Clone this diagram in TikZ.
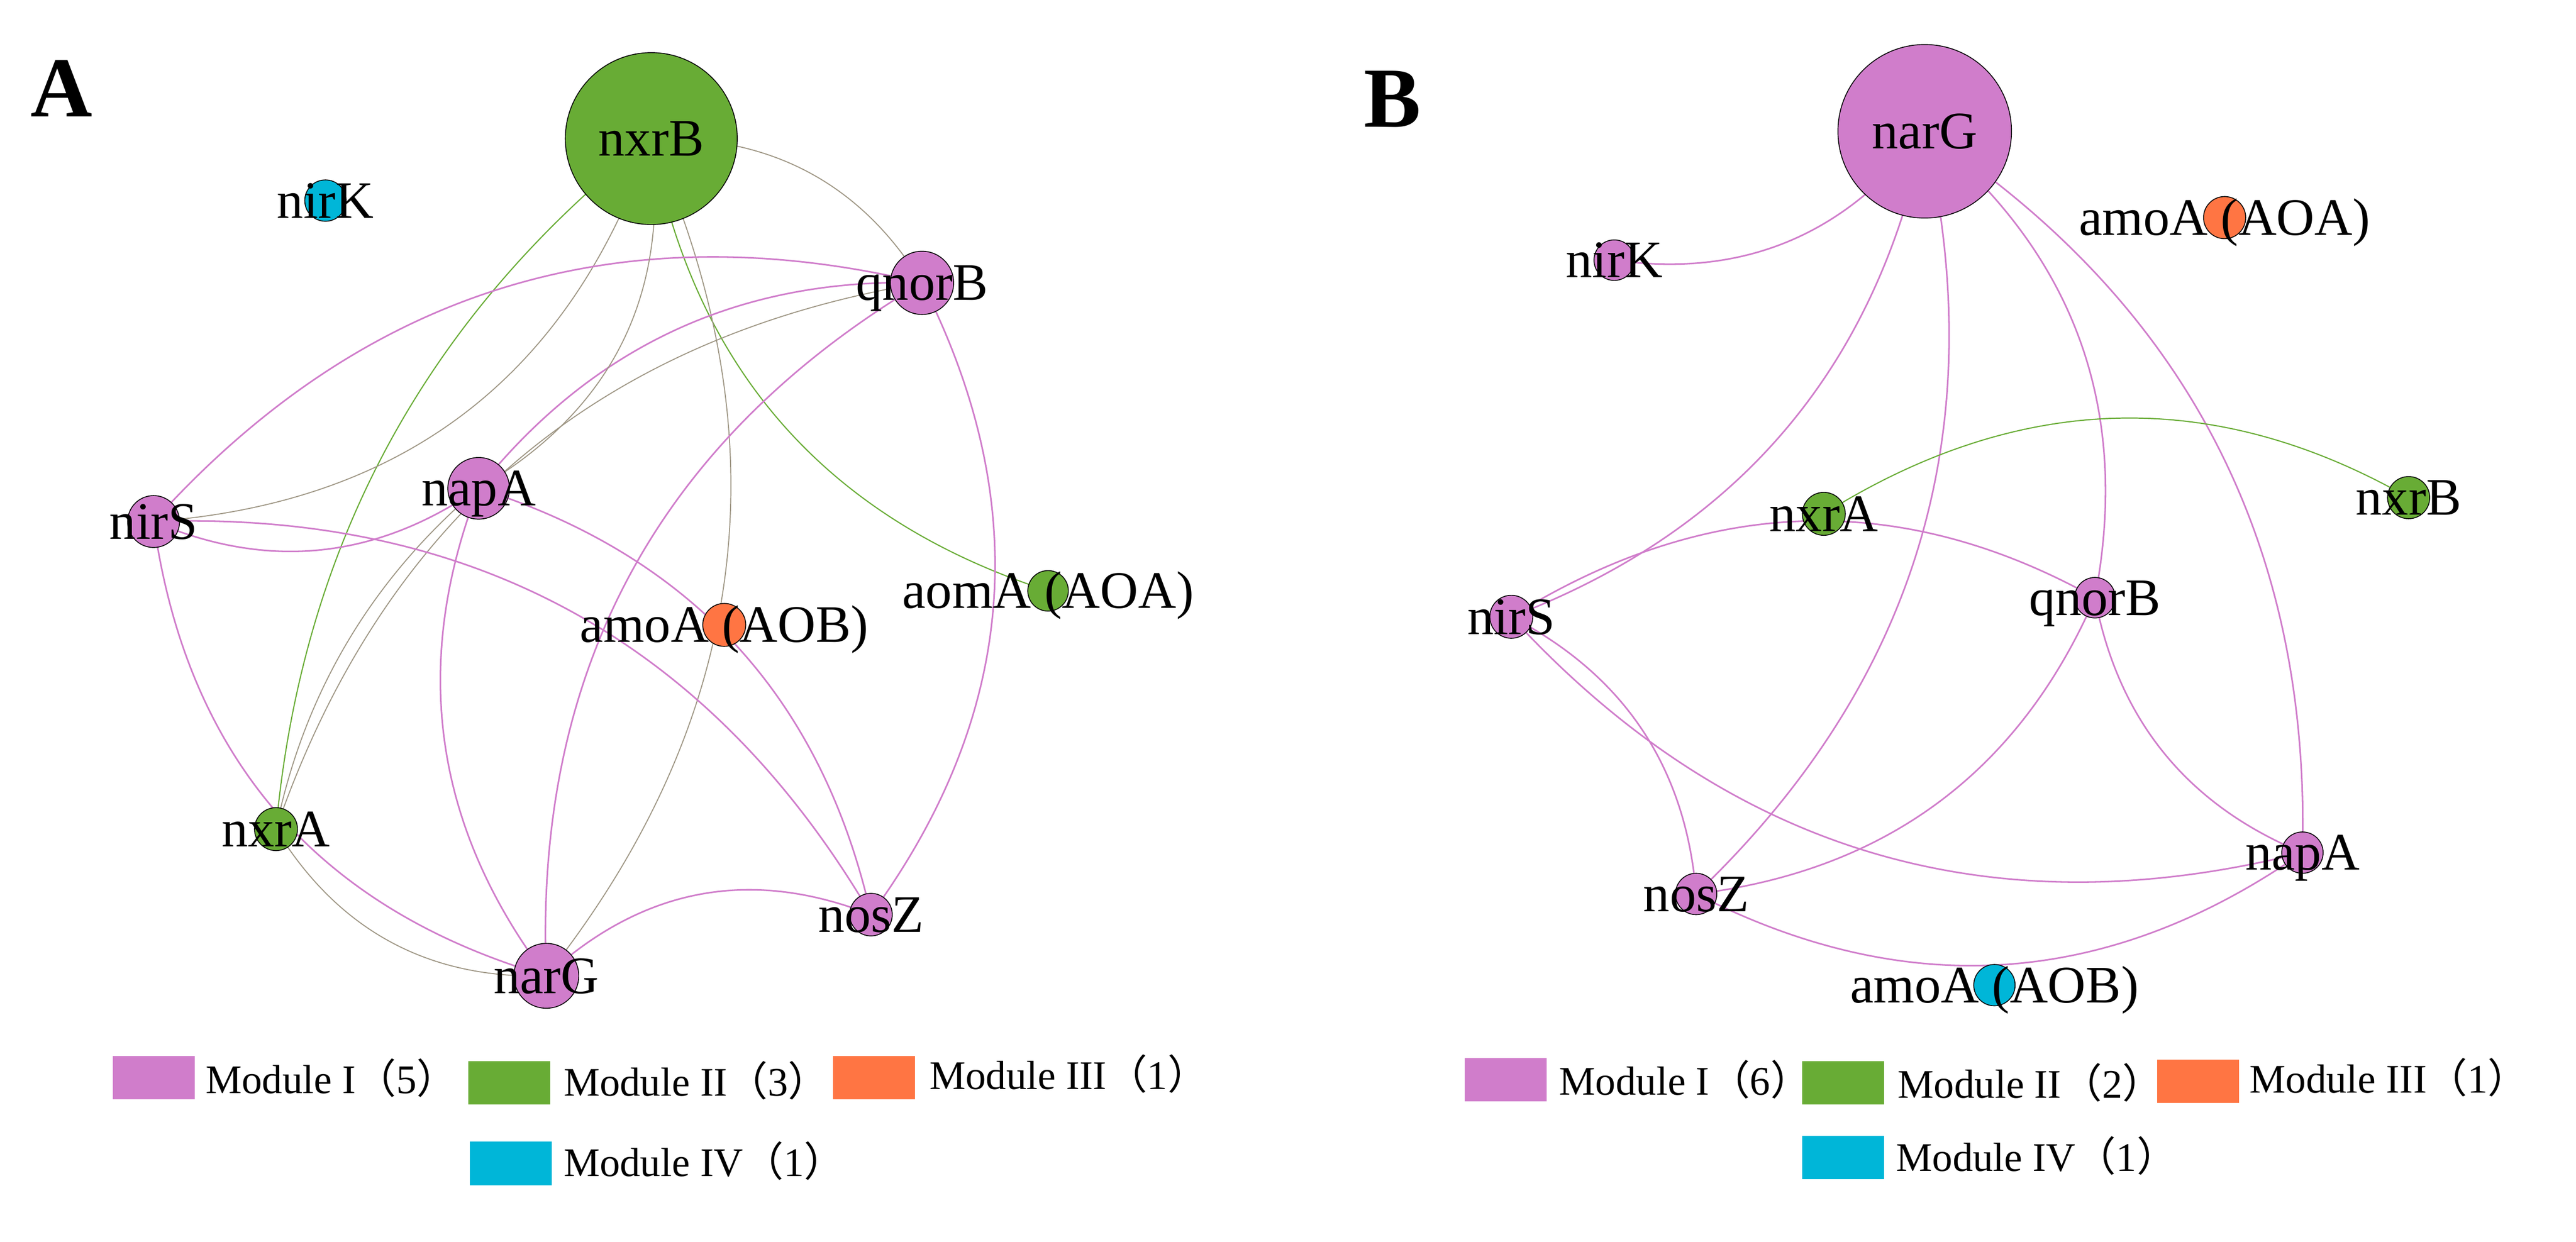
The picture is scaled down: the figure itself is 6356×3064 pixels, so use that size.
\documentclass[tikz,border=0pt]{standalone}
\usepackage{fontspec}
\setmainfont{Liberation Serif}
\newfontfamily\cjk{Noto Sans CJK SC}
\usetikzlibrary{calc,backgrounds}
\definecolor{modpink}{HTML}{D07DCB}
\definecolor{modgreen}{HTML}{68AC35}
\definecolor{modorange}{HTML}{FF7543}
\definecolor{modcyan}{HTML}{00B6D8}
\definecolor{mixgrey}{HTML}{9E9684}
\tikzset{
  gnode/.style={circle, draw=black, line width=0.6pt, inner sep=0pt},
  glabel/.style={font=\fontsize{37}{44}\selectfont, anchor=base, inner sep=0pt},
  pe/.style={draw=modpink, line width=1.1pt},
  ge/.style={draw=mixgrey, line width=0.7pt},
  gre/.style={draw=modgreen, line width=0.8pt},
  swatch/.style={rectangle, inner sep=0pt, minimum width=2.02cm, minimum height=1.07cm},
  legtext/.style={font=\fontsize{28.5}{34}\selectfont, anchor=base west, inner sep=0pt},
  panel/.style={font=\fontsize{60}{72}\selectfont\bfseries, anchor=base west, inner sep=0pt}
}
\newcommand{\netnode}[5]{\node[gnode, fill=#5, minimum size=#4cm] (#1) at (#2,#3) {};}
\newcommand{\netlabel}[4]{\node[glabel] (#1-t) at (#2,{#3+43}) {#4};}
\newcommand{\netedge}[5]{\draw[#1] (#2.center) .. controls ($1.3333*(#4,#5)-0.3333*(#3)$) and ($1.3333*(#4,#5)-0.3333*(#2)$) .. (#3.center);}
\begin{document}
\begin{tikzpicture}[x=0.01cm, y=-0.01cm]
\useasboundingbox (0,0) rectangle (6356,3064);
% ---------- Panel A nodes
\netnode{a-nxrB}{1607}{342}{4.24}{modgreen}
\netnode{a-nirK}{803}{495}{1.02}{modcyan}
\netnode{a-qnorB}{2275}{698}{1.56}{modpink}
\netnode{a-napA}{1181}{1205}{1.52}{modpink}
\netnode{a-nirS}{379}{1287}{1.28}{modpink}
\netnode{a-aomA}{2586}{1458}{1.0}{modgreen}
\netnode{a-amoA}{1787}{1542}{1.06}{modorange}
\netnode{a-nxrA}{681}{2046}{1.06}{modgreen}
\netnode{a-narG}{1348}{2408}{1.6}{modpink}
\netnode{a-nosZ}{2149}{2257}{1.05}{modpink}
% ---------- Panel B nodes
\netnode{b-narG}{4749}{324}{4.28}{modpink}
\netnode{b-nirK}{3983}{642}{1.0}{modpink}
\netnode{b-amoAOA}{5489}{537}{1.04}{modorange}
\netnode{b-nxrA}{4500}{1268}{1.06}{modgreen}
\netnode{b-nxrB}{5943}{1228}{1.04}{modgreen}
\netnode{b-qnorB}{5169}{1475}{1.0}{modpink}
\netnode{b-nirS}{3729}{1522}{1.06}{modpink}
\netnode{b-nosZ}{4185}{2206}{1.02}{modpink}
\netnode{b-napA}{5681}{2104}{1.02}{modpink}
\netnode{b-amoAOB}{4921}{2431}{1.02}{modcyan}
% ---------- Edges (behind nodes)
\begin{pgfonlayer}{background}
\fill[white] (0,0) rectangle (6356,3064);
\netedge{ge}{a-nxrB}{a-qnorB}{1995}{425}
\netedge{gre}{a-nxrB}{a-nxrA}{960}{1094}
\netedge{gre}{a-nxrB}{a-aomA}{1930}{1046}
\netedge{ge}{a-nxrB}{a-nirS}{1150}{1017}
\netedge{ge}{a-nxrB}{a-narG}{1790}{1414}
\netedge{pe}{a-nirS}{a-qnorB}{1239}{711}
\netedge{pe}{a-napA}{a-qnorB}{1665}{815}
\netedge{ge}{a-qnorB}{a-nxrA}{1278}{1135}
\netedge{ge}{a-nxrB}{a-napA}{1536}{844}
\netedge{ge}{a-napA}{a-nxrA}{858}{1583}
\netedge{pe}{a-qnorB}{a-narG}{1556}{1415}
\netedge{pe}{a-qnorB}{a-nosZ}{2451}{1497}
\netedge{pe}{a-nirS}{a-napA}{791}{1357}
\netedge{pe}{a-nirS}{a-nosZ}{1410}{1509}
\netedge{pe}{a-napA}{a-nosZ}{1816}{1592}
\netedge{pe}{a-nirS}{a-narG}{682}{2004}
\netedge{pe}{a-napA}{a-narG}{1097}{1830}
\netedge{ge}{a-nxrA}{a-narG}{963}{2324}
\netedge{pe}{a-narG}{a-nosZ}{1726}{2207}
%
\netedge{pe}{b-narG}{b-nirK}{4412}{596}
\netedge{pe}{b-narG}{b-nirS}{4403}{1063}
\netedge{pe}{b-narG}{b-nosZ}{4735}{1345}
\netedge{pe}{b-narG}{b-qnorB}{5131}{837}
\netedge{pe}{b-narG}{b-napA}{5463}{1084}
\netedge{gre}{b-nxrA}{b-nxrB}{5221}{1032}
\netedge{pe}{b-nirS}{b-qnorB}{4449}{1286}
\netedge{pe}{b-nirS}{b-nosZ}{4052}{1801}
\netedge{pe}{b-nirS}{b-napA}{4618}{2104}
\netedge{pe}{b-qnorB}{b-nosZ}{4783}{1980}
\netedge{pe}{b-qnorB}{b-napA}{5340}{1859}
\netedge{pe}{b-nosZ}{b-napA}{4948}{2380}
\end{pgfonlayer}
% ---------- Labels
\netlabel{a-nxrB}{1607}{342}{nxrB}
\netlabel{a-nirK}{803}{495}{nirK}
\netlabel{a-qnorB}{2275}{698}{qnorB}
\netlabel{a-napA}{1181}{1205}{napA}
\netlabel{a-nirS}{379}{1287}{nirS}
\netlabel{a-aomA}{2586}{1458}{aomA (AOA)}
\netlabel{a-amoA}{1787}{1542}{amoA (AOB)}
\netlabel{a-nxrA}{681}{2046}{nxrA}
\netlabel{a-narG}{1348}{2408}{narG}
\netlabel{a-nosZ}{2149}{2257}{nosZ}
\netlabel{b-narG}{4749}{324}{narG}
\netlabel{b-nirK}{3983}{642}{nirK}
\netlabel{b-amoAOA}{5489}{537}{amoA (AOA)}
\netlabel{b-nxrA}{4500}{1268}{nxrA}
\netlabel{b-nxrB}{5943}{1228}{nxrB}
\netlabel{b-qnorB}{5169}{1475}{qnorB}
\netlabel{b-nirS}{3729}{1522}{nirS}
\netlabel{b-nosZ}{4185}{2206}{nosZ}
\netlabel{b-napA}{5681}{2104}{napA}
\netlabel{b-amoAOB}{4921}{2431}{amoA (AOB)}
% ---------- Panel letters
\node[panel] (lblA) at (75,288) {A};
\node[panel] (lblB) at (3365,313) {B};
% ---------- Legend A
\node[swatch, fill=modpink] (a-leg1) at (379,2659) {};
\node[legtext] (a-leg1-t) at (507,2698) {Module I{\cjk （}5{\cjk ）}};
\node[swatch, fill=modgreen] (a-leg2) at (1257,2672) {};
\node[legtext] (a-leg2-t) at (1390,2704) {Module II{\cjk （}3{\cjk ）}};
\node[swatch, fill=modorange] (a-leg3) at (2157,2659) {};
\node[legtext] (a-leg3-t) at (2293,2688) {Module III{\cjk （}1{\cjk ）}};
\node[swatch, fill=modcyan] (a-leg4) at (1260,2871) {};
\node[legtext] (a-leg4-t) at (1390,2903) {Module IV{\cjk （}1{\cjk ）}};
% ---------- Legend B
\node[swatch, fill=modpink] (b-leg1) at (3715,2664) {};
\node[legtext] (b-leg1-t) at (3847,2702) {Module I{\cjk （}6{\cjk ）}};
\node[swatch, fill=modgreen] (b-leg2) at (4548,2672) {};
\node[legtext] (b-leg2-t) at (4682,2709) {Module II{\cjk （}2{\cjk ）}};
\node[swatch, fill=modorange] (b-leg3) at (5424,2668) {};
\node[legtext] (b-leg3-t) at (5550,2697) {Module III{\cjk （}1{\cjk ）}};
\node[swatch, fill=modcyan] (b-leg4) at (4548,2856) {};
\node[legtext] (b-leg4-t) at (4678,2890) {Module IV{\cjk （}1{\cjk ）}};
\end{tikzpicture}
\end{document}
